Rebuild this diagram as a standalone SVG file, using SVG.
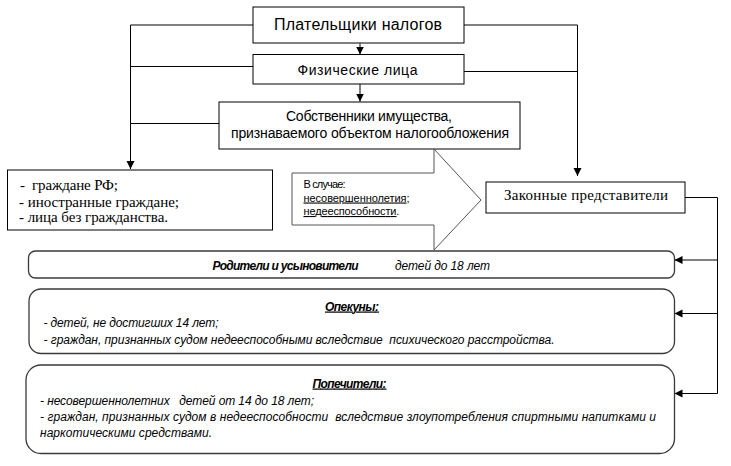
<svg xmlns="http://www.w3.org/2000/svg" width="731" height="466" viewBox="0 0 731 466">
<defs>
<marker id="ah" markerUnits="userSpaceOnUse" markerWidth="9" markerHeight="9" refX="8" refY="4" orient="auto"><path d="M0,0 L8,4 L0,8 Z" fill="#000"/></marker>
<style>
.box{fill:#fff;stroke:#000;stroke-width:1}
.rbox{fill:#fff;stroke:#3a3a3a;stroke-width:1.3}
.sans{font-family:"Liberation Sans",Arial,sans-serif;fill:#000}
.serif{font-family:"Liberation Serif","Times New Roman",serif;fill:#000;font-size:15px}
.it{font-style:italic;font-size:12px}
.b{font-weight:bold}
.u{text-decoration:underline}
.ln{fill:none;stroke:#000;stroke-width:1}
.ar{marker-end:url(#ah)}
</style>
</defs>
<rect width="731" height="466" fill="#fff"/>

<g id="connectors">
<path class="ln ar" d="M253,25 H130.5 V169"/>
<path class="ln" d="M253,66.5 H130.5"/>
<path class="ln" d="M219,123.5 H130.5"/>
<path class="ln ar" d="M464,25 H577.5 V176"/>
<path class="ln" d="M464,71.5 H577.5"/>
<path class="ln ar" d="M360,43.5 V54.5"/>
<path class="ln ar" d="M360,84 V101.5"/>
<path class="ln ar" d="M685,197.5 H717.5 V393.5 H674.5"/>
<path class="ln ar" d="M717.5,260 H674.5"/>
<path class="ln ar" d="M717.5,313.5 H674.5"/>
</g>

<g id="node-platelshchiki">
<rect class="box" x="253" y="7" width="211" height="36"/>
<text class="sans" x="358" y="30" font-size="16" text-anchor="middle" textLength="168">Плательщики налогов</text>
</g>

<g id="node-fizlica">
<rect class="box" x="253" y="54.5" width="211" height="29.5"/>
<text class="sans" x="357.5" y="75" font-size="14" text-anchor="middle" textLength="120">Физические лица</text>
</g>

<g id="node-sobstvenniki">
<rect class="box" x="219" y="102" width="301" height="47"/>
<text class="sans" x="369" y="121" font-size="14" text-anchor="middle" textLength="166">Собственники имущества,</text>
<text class="sans" x="370" y="137.5" font-size="14" text-anchor="middle" textLength="278">признаваемого объектом налогообложения</text>
</g>

<g id="node-grazhdane">
<rect class="box" x="7.5" y="170" width="265" height="60"/>
<text class="serif" x="20" y="190" xml:space="preserve" textLength="98">-  граждане РФ;</text>
<text class="serif" x="19" y="206.5" textLength="160">- иностранные граждане;</text>
<text class="serif" x="19" y="222" textLength="149">- лица без гражданства.</text>
</g>

<g id="node-sluchae">
<polygon points="292,173 434,173 434,149 481,200 434,250 434,225 292,225" fill="#fff" stroke="#555" stroke-width="1"/>
<text class="sans" x="303.5" y="188" font-size="11" textLength="42">В случае:</text>
<text class="sans" x="303.5" y="201.5" font-size="11"><tspan class="u" textLength="103">несовершеннолетия</tspan>;</text>
<text class="sans" x="303.5" y="215" font-size="11"><tspan class="u" textLength="93">недееспособности</tspan>.</text>
</g>

<g id="node-zakonnye">
<rect class="box" x="486" y="182" width="199" height="31"/>
<text class="serif" x="504" y="200" textLength="164">Законные представители</text>
</g>

<g id="node-roditeli">
<rect class="rbox" x="28.5" y="251" width="646" height="27" rx="7"/>
<text class="sans it b" x="212.5" y="270" textLength="146">Родители и усыновители</text>
<text class="sans it" x="395" y="270" textLength="95">детей до 18 лет</text>
</g>

<g id="node-opekuny">
<rect class="rbox" x="29" y="289" width="645.5" height="64.5" rx="12"/>
<text class="sans it b u" x="352" y="310.5" text-anchor="middle" textLength="54">Опекуны:</text>
<text class="sans it" x="43.5" y="326.5" textLength="175">- детей, не достигших 14 лет;</text>
<text class="sans it" x="43.5" y="343.5" xml:space="preserve" textLength="511">- граждан, признанных судом недееспособными вследствие  психического расстройства.</text>
</g>

<g id="node-popechiteli">
<rect class="rbox" x="26" y="365" width="648.5" height="88.5" rx="15"/>
<text class="sans it b u" x="349.5" y="387.5" text-anchor="middle" textLength="74">Попечители:</text>
<text class="sans it" x="40" y="404.5" xml:space="preserve" textLength="274">- несовершеннолетних   детей от 14 до 18 лет;</text>
<text class="sans it" x="40" y="420.5" xml:space="preserve" textLength="616">- граждан, признанных судом в недееспособности  вследствие злоупотребления спиртными напитками и</text>
<text class="sans it" x="40" y="436.5" textLength="172">наркотическими средствами.</text>
</g>
</svg>
